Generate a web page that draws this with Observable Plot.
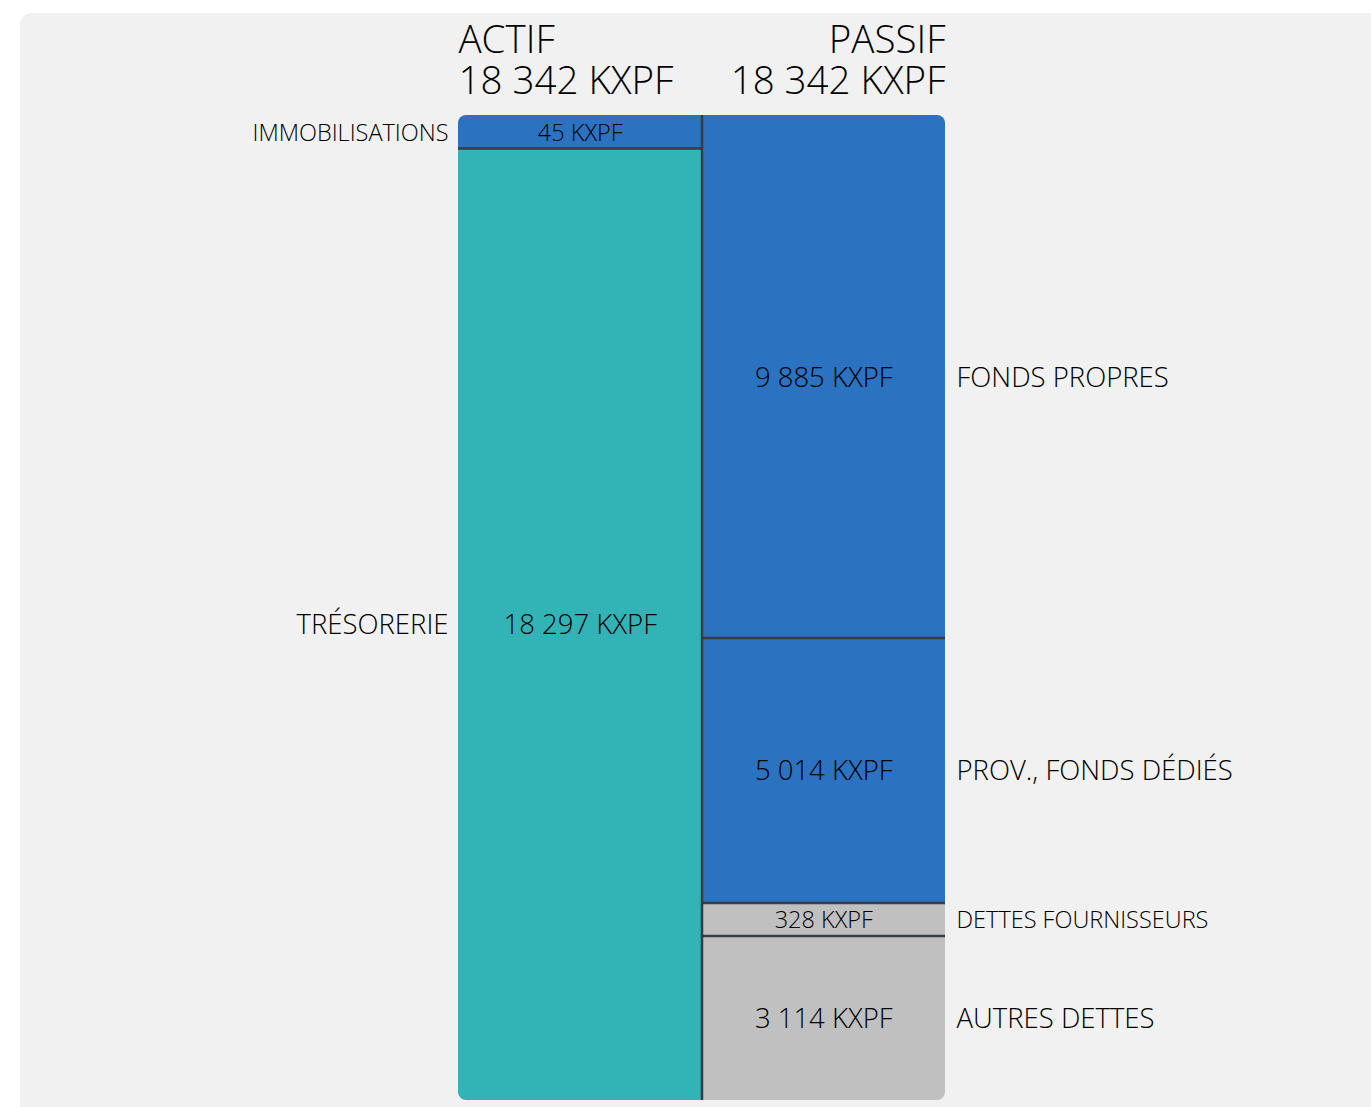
<!DOCTYPE html>
<html>
<head>
<meta charset="utf-8">
<script src="https://cdn.jsdelivr.net/npm/d3@7"></script>
<script src="https://cdn.jsdelivr.net/npm/@observablehq/plot@0.6"></script>
<style>
  html, body { margin: 0; padding: 0; background: #ffffff; }
  #panel { position: absolute; left: 20px; top: 13px; width: 1351px; height: 1094px; background: #f1f1f1; border-top-left-radius: 12px; }
  #chart { position: absolute; left: 0; top: 0; }
  #chart svg { background: transparent; }
</style>
</head>
<body>
<div id="panel"></div>
<div id="chart"></div>
<script>
// ---- Data ----
const columns = ["ACTIF", "PASSIF"];
const columnTotals = [18342, 18342];
const actifLabels = ["IMMOBILISATIONS", "TRÉSORERIE"];
const actifValues = [45, 18297];
const actifColors = ["#2b72c0", "#32b3b5"];
const passifLabels = ["FONDS PROPRES", "PROV., FONDS DÉDIÉS", "DETTES FOURNISSEURS", "AUTRES DETTES"];
const passifValues = [9885, 5014, 328, 3114];
const passifColors = ["#2b72c0", "#2b72c0", "#c0c0c0", "#c0c0c0"];
const unit = "KXPF";

// ---- Layout helpers ----
const minShare = 0.0335; // minimum displayed share for tiny segments
const fr = d3.formatLocale({decimal: ",", thousands: " ", grouping: [3], currency: ["", ""]});
const fmt = v => fr.format(",d")(v) + " " + unit;

function layout(labels, values, colors, col) {
  const sum = d3.sum(values);
  const small = values.map(v => v / sum < minShare);
  const nSmall = small.filter(Boolean).length;
  const sumBig = d3.sum(values.filter((v, i) => !small[i]));
  let acc = 0;
  return values.map((v, i) => {
    const share = small[i] ? minShare : (1 - nSmall * minShare) * v / sumBig;
    const d = {col, label: labels[i], value: v, color: colors[i], small: small[i], y1: acc, y2: acc + share};
    acc += share;
    d.ym = (d.y1 + d.y2) / 2;
    return d;
  });
}
const segs = [
  ...layout(actifLabels, actifValues, actifColors, 0),
  ...layout(passifLabels, passifValues, passifColors, 1)
];
const boundaries = segs.filter(d => d.y1 > 0);
const headers = columns.map((c, i) => ({col: i, name: c, total: fr.format(",d")(columnTotals[i]) + " " + unit}));

const font = "'Open Sans', 'Noto Sans', sans-serif";
const W = 1371, H = 1107;
const big = 27.5, sm = 23.5;
const ink = "#000";

const plot = Plot.plot({
  width: W,
  height: H,
  marginLeft: 458,
  marginRight: W - 945,
  marginTop: 115,
  marginBottom: H - 1100,
  style: {background: "transparent", fontFamily: font, color: ink},
  x: {domain: [0, 2], axis: null},
  y: {domain: [0, 1], range: [115, 1100], axis: null},
  marks: [
    Plot.rect(segs, {x1: "col", x2: d => d.col + 1, y1: "y1", y2: "y2", fill: "color", className: "segs"}),
    Plot.ruleX([1], {y1: 0, y2: 1, stroke: "#363b45", strokeWidth: 2.5}),
    Plot.ruleY(boundaries, {y: "y1", x1: "col", x2: d => d.col + 1, stroke: "#363b45", strokeWidth: 2.5}),
    // values inside
    Plot.text(segs, {x: d => d.col + 0.5, y: "ym", dy: 1, text: d => fmt(d.value), fontSize: d => d.small ? sm : big, fill: ink, fontWeight: 300}),
    // labels outside
    Plot.text(segs, {x: "col", y: "ym", dy: 1, text: "label", filter: d => d.col === 0, textAnchor: "end", dx: -10, fontSize: d => d.small ? sm : big, fill: ink, fontWeight: 300}),
    Plot.text(segs, {x: d => d.col + 1, y: "ym", dy: 1, text: "label", filter: d => d.col === 1, textAnchor: "start", dx: 11, fontSize: d => d.small ? sm : big, fill: ink, fontWeight: 300}),
    // column headers (name line and total line)
    Plot.text(headers, {filter: d => d.col === 0, x: 0, y: 0, text: "name", textAnchor: "start", lineAnchor: "bottom", dy: -63, fontSize: 38.5, fill: ink, fontWeight: 300}),
    Plot.text(headers, {filter: d => d.col === 0, x: 0, y: 0, text: "total", textAnchor: "start", lineAnchor: "bottom", dy: -22, fontSize: 38.5, fill: ink, fontWeight: 300}),
    Plot.text(headers, {filter: d => d.col === 1, x: 2, y: 0, text: "name", textAnchor: "end", lineAnchor: "bottom", dy: -63, fontSize: 38.5, fill: ink, fontWeight: 300}),
    Plot.text(headers, {filter: d => d.col === 1, x: 2, y: 0, text: "total", textAnchor: "end", lineAnchor: "bottom", dy: -22, fontSize: 38.5, fill: ink, fontWeight: 300})
  ]
});
// round the outer corners of the stacked block using the plot's own scales
const sx = plot.scale("x"), sy = plot.scale("y");
const x0 = sx.apply(0), x1 = sx.apply(2), y0 = sy.apply(0), y1 = sy.apply(1);
const svg = d3.select(plot);
svg.append("defs").append("clipPath").attr("id", "blockclip")
  .append("rect").attr("x", x0).attr("y", y0).attr("width", x1 - x0).attr("height", y1 - y0).attr("rx", 8).attr("ry", 8);
svg.select("g.segs").attr("clip-path", "url(#blockclip)");
document.getElementById("chart").append(plot);
</script>
</body>
</html>
